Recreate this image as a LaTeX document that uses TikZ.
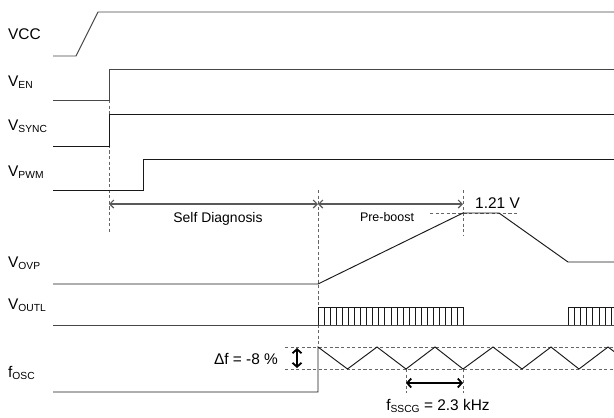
\documentclass[tikz,border=0pt]{standalone}
\usepackage{fontspec}
\setmainfont{Liberation Sans}
\usetikzlibrary{arrows.meta}
\newcommand\subs[1]{\lower2.2bp\hbox{\fontsize{10.3}{10.3}\selectfont #1}}
\begin{document}
\begin{tikzpicture}[x=1bp,y=-1bp,
  wave/.style={line width=0.95bp,draw=black!90},
  guide/.style={draw=black!60,line width=0.8bp,dash pattern=on 3.2bp off 2.4bp},
  span/.style={draw=black!65,line width=1.1bp,{Straight Barb[length=4bp,width=8bp]}-{Straight Barb[length=4bp,width=8bp]}},
  bigspan/.style={draw=black,line width=1.8bp,{Straight Barb[length=4bp,width=9bp]}-{Straight Barb[length=4bp,width=9bp]}},
  lbl/.style={inner sep=0pt,anchor=base west,font=\fontsize{15.5}{15.5}\selectfont},
  txt/.style={inner sep=0pt,anchor=base,font=\fontsize{15.5}{15.5}\selectfont}]
\useasboundingbox (0,0) rectangle (614,417);
% labels
\node[lbl] (lvcc) at (8,39) {VCC};
\node[lbl] (len) at (8,86) {V\subs{EN}};
\node[lbl] (lsync) at (8,130) {V\subs{SYNC}};
\node[lbl] (lpwm) at (8,176.5) {V\subs{PWM}};
\node[lbl] (lovp) at (8,267) {V\subs{OVP}};
\node[lbl] (loutl) at (8,309) {V\subs{OUTL}};
\node[lbl] (losc) at (8,377) {f\subs{OSC}};
% guide lines
\draw[guide] (109,100) -- (109,233);
\draw[guide] (318,190) -- (318,347);
\draw[guide] (463,190) -- (463,235);
\draw[guide] (430,213) -- (519,213);
\draw[guide] (285,347) -- (614,347);
\draw[guide] (285,369) -- (614,369);
\draw[guide] (406,369) -- (406,393);
\draw[guide] (463,369) -- (463,393);
% waveforms
\draw[wave,draw=black!72] (53,56) -- (76,56) -- (98,12) -- (614,12);
\draw[wave,draw=black!72] (53,100) -- (109,100) -- (109,69.5) -- (614,69.5);
\draw[wave] (53,146) -- (109,146) -- (109,114) -- (614,114);
\draw[wave] (53,190.5) -- (143,190.5) -- (143,159) -- (614,159);
\draw[wave] (53,284) -- (318,284) -- (463,213) -- (499,213) -- (568,262) -- (614,262);
\draw[wave,draw=black!72] (53,325) -- (614,325);
\draw[wave,line width=0.9bp] (318,325) -- (318,307) -- (463.5,307) -- (463.5,325);
\foreach \i in {1,...,23} {\draw[wave,line width=0.9bp] (318+\i*6.08,307) -- (318+\i*6.08,325);}
\draw[wave,line width=0.9bp] (568,325) -- (568,307) -- (614,307);
\foreach \i in {1,...,7} {\draw[wave,line width=0.9bp] (568+\i*6.2,307) -- (568+\i*6.2,325);}
\draw[wave] (53,392) -- (318,392) -- (318,347)
  -- (347.5,369) -- (377,347) -- (406,369) -- (435,347) -- (463,369) -- (493,347)
  -- (522,369) -- (551,347) -- (579,369) -- (608,347) -- (614,351.5);
% spans
\coordinate (sdA) at (109,204);
\coordinate (sdB) at (318,204);
\coordinate (pbB) at (463,204);
\draw[span] (sdA) -- (sdB);
\draw[span] (sdB) -- (pbB);
\node[txt,font=\fontsize{14}{14}\selectfont] (sdt) at (218,222) {Self Diagnosis};
\node[txt,font=\fontsize{12.5}{12.5}\selectfont] (pbt) at (387,221) {Pre-boost};
\node[txt,anchor=base west] (v121) at (475,208) {1.21 V};
\coordinate (dfA) at (297,348);
\coordinate (dfB) at (297,368);
\draw[bigspan] (dfA) -- (dfB);
\node[txt] (dft) at (246,364) {Δf = -8 \%};
\coordinate (ssA) at (406,383);
\coordinate (ssB) at (463,383);
\draw[bigspan] (ssA) -- (ssB);
\node[txt] (sst) at (438,410.5) {f\subs{SSCG} = 2.3 kHz};
\end{tikzpicture}
\end{document}
